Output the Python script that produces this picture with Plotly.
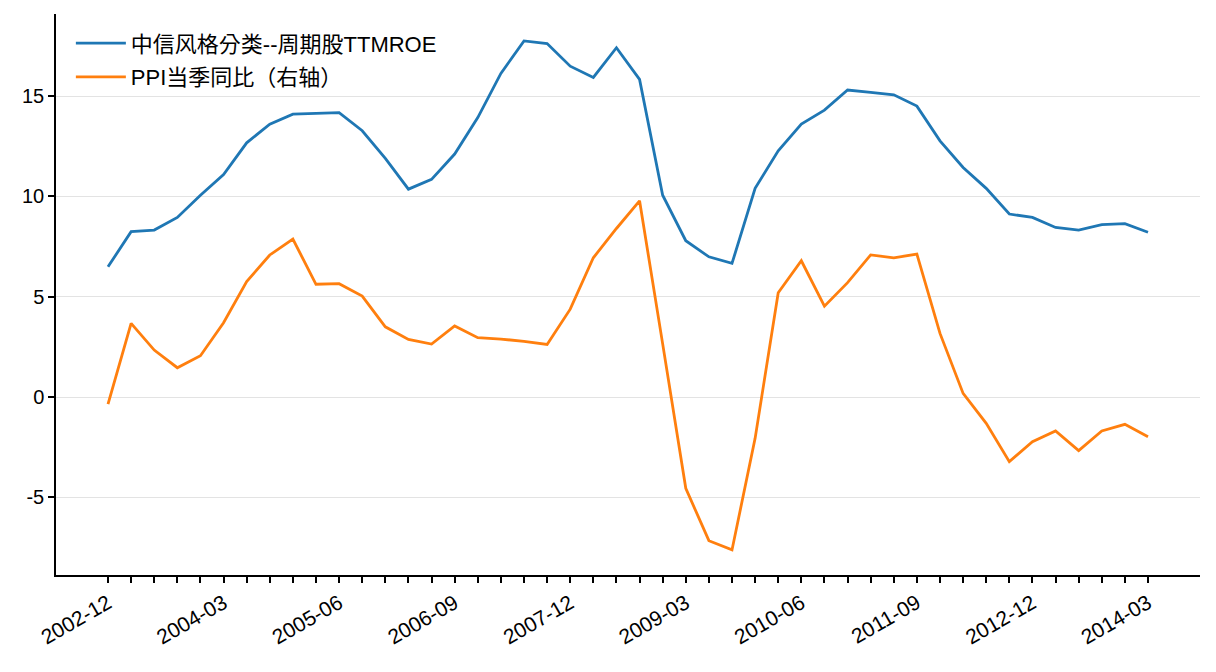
import plotly.graph_objects as go

quarters = [
    "2002-12", "2003-03", "2003-06", "2003-09", "2003-12",
    "2004-03", "2004-06", "2004-09", "2004-12",
    "2005-03", "2005-06", "2005-09", "2005-12",
    "2006-03", "2006-06", "2006-09", "2006-12",
    "2007-03", "2007-06", "2007-09", "2007-12",
    "2008-03", "2008-06", "2008-09", "2008-12",
    "2009-03", "2009-06", "2009-09", "2009-12",
    "2010-03", "2010-06", "2010-09", "2010-12",
    "2011-03", "2011-06", "2011-09", "2011-12",
    "2012-03", "2012-06", "2012-09", "2012-12",
    "2013-03", "2013-06", "2013-09", "2013-12",
    "2014-03",
]

roe_ttm = [
    6.49, 8.24, 8.32, 8.95, 10.06, 11.09, 12.67, 13.60, 14.10, 14.12,
    14.17, 13.27, 11.89, 10.36, 10.85, 12.11, 13.93, 16.13, 17.75, 17.62,
    16.49, 15.93, 17.41, 15.83, 10.06, 7.79, 6.99, 6.66, 10.40, 12.27,
    13.60, 14.30, 15.30, 15.18, 15.06, 14.50, 12.77, 11.44, 10.40, 9.12,
    8.95, 8.45, 8.32, 8.59, 8.64, 8.21,
]

ppi_yoy = [
    -0.35, 3.67, 2.34, 1.46, 2.06, 3.70, 5.75, 7.08, 7.87, 5.62,
    5.65, 5.03, 3.50, 2.87, 2.64, 3.54, 2.96, 2.89, 2.77, 2.62,
    4.38, 6.94, 8.40, 9.78, 2.65, -4.55, -7.16, -7.62, -2.06, 5.20,
    6.79, 4.53, 5.70, 7.08, 6.94, 7.12, 3.17, 0.18, -1.31, -3.22,
    -2.23, -1.69, -2.67, -1.69, -1.36, -1.98,
]

series_names = ["中信风格分类--周期股TTMROE", "PPI当季同比（右轴）"]
series_colors = ["#1f77b4", "#ff7f0e"]

y_ticks = [-5, 0, 5, 10, 15]
y_tick_text = [str(v) for v in y_ticks]

idx = list(range(len(quarters)))
tick_idx = idx[::5]
tick_text = [quarters[i] for i in tick_idx]

FONT = "Liberation Sans, Arial, Noto Sans CJK SC, sans-serif"
LEGEND_FONT = "Liberation Sans, Arial, Noto Sans CJK KR, sans-serif"

fig = go.Figure()
for k, (name, vals, col) in enumerate(zip(series_names, [roe_ttm, ppi_yoy], series_colors)):
    fig.add_trace(go.Scatter(
        x=idx, y=vals, mode="lines", name=name, legendgroup=f"g{k}",
        line=dict(color=col, width=2.8),
    ))

n = len(quarters) - 1
pad = 0.05 * n
fig.update_layout(
    width=1216, height=672,
    margin=dict(l=56, r=16, t=14, b=97),
    paper_bgcolor="white", plot_bgcolor="white",
    font=dict(family=FONT, size=21, color="black"),
    showlegend=True,
    legend=dict(
        x=0.013, y=0.985, xanchor="left", yanchor="top",
        bgcolor="rgba(0,0,0,0)", borderwidth=0,
        font=dict(family=LEGEND_FONT, size=22),
        itemwidth=50,
        traceorder="grouped",
        tracegroupgap=2,
    ),
    xaxis=dict(
        range=[-pad, n + pad],
        tickmode="array", tickvals=tick_idx, ticktext=tick_text,
        tickangle=-30,
        ticks="outside", ticklen=6, tickwidth=1.5, tickcolor="black",
        showgrid=False, zeroline=False,
        showline=True, linecolor="black", linewidth=1.5,
        minor=dict(tickmode="array", tickvals=idx, ticks="outside",
                   ticklen=6, tickwidth=1.5, tickcolor="black", showgrid=False),
        tickfont=dict(size=21),
        automargin=False,
    ),
    yaxis=dict(
        range=[-8.87, 19.09],
        tickmode="array", tickvals=y_ticks, ticktext=y_tick_text,
        ticks="outside", ticklen=6, tickwidth=1.5, tickcolor="black",
        showgrid=True, gridcolor="#e3e3e3", gridwidth=1.3,
        zeroline=False,
        showline=True, linecolor="black", linewidth=1.5,
        tickfont=dict(size=20),
        automargin=False,
    ),
)

fig.write_html(
    "out.html",
    config={"displayModeBar": False},
    post_script="document.body.style.margin='0px';",
)
